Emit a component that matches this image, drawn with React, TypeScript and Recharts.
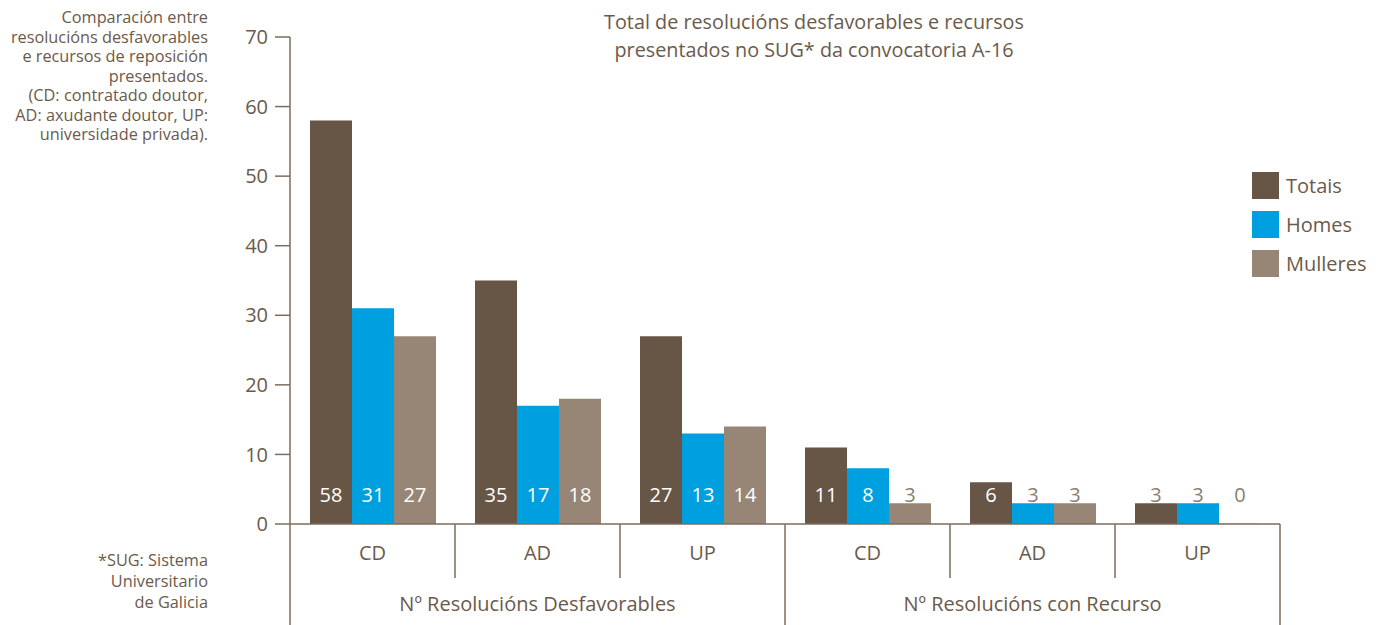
import { Bar, BarChart, LabelList, XAxis, YAxis } from "recharts";

const categories = ["CD", "AD", "UP", "CD", "AD", "UP"];
const groups = ["Nº Resolucións Desfavorables", "Nº Resolucións con Recurso"];
const totais = [58, 35, 27, 11, 6, 3];
const homes = [31, 17, 13, 8, 3, 3];
const mulleres = [27, 18, 14, 3, 3, 0];
const yTicks = [0, 10, 20, 30, 40, 50, 60, 70];

const series = [
  { key: "totais", name: "Totais", color: "#675646" },
  { key: "homes", name: "Homes", color: "#009fe0" },
  { key: "mulleres", name: "Mulleres", color: "#978676" },
];

const data = categories.map((cat, i) => ({
  id: `c${i}`,
  cat,
  totais: totais[i],
  homes: homes[i],
  mulleres: mulleres[i],
}));

const FONT = "'Open Sans', sans-serif";
const TEXT = "#6b5a4b";
const LINE = "#7d6c5e";

function CategoryTick(props: any) {
  const { x, y, index, payload } = props;
  const half = payload?.offset ?? 82.5;
  const firstOfGroup = index % 3 === 0;
  const last = index === categories.length - 1;
  return (
    <g>
      <line
        x1={x - half}
        x2={x - half}
        y1={y}
        y2={firstOfGroup ? y + 101 : y + 54}
        stroke={LINE}
        strokeWidth={1.5}
      />
      {last && (
        <line x1={x + half} x2={x + half} y1={y} y2={y + 101} stroke={LINE} strokeWidth={1.5} />
      )}
      <text x={x} y={y + 28} textAnchor="middle" dominantBaseline="central" fill={TEXT} fontSize={20} fontFamily={FONT}>
        {categories[index]}
      </text>
      {index % 3 === 1 && (
        <text x={x} y={y + 79} textAnchor="middle" dominantBaseline="central" fill={TEXT} fontSize={20} fontFamily={FONT}>
          {groups[Math.floor(index / 3)]}
        </text>
      )}
    </g>
  );
}

const renderValue = (props: any) => {
  const { x, y, width, height, value } = props;
  const bottom = y + height;
  const inside = height > 35;
  return (
    <text
      x={x + width / 2}
      y={bottom - 30}
      textAnchor="middle"
      dominantBaseline="central"
      fill={inside ? "#ffffff" : "#8b7d70"}
      fontSize={20}
      fontFamily={FONT}
    >
      {value}
    </text>
  );
};

export default function App() {
  return (
    <div style={{ position: "absolute", left: 0, top: 0, width: 1379, height: 625, fontFamily: FONT, color: TEXT }}>
      <div
        style={{
          position: "absolute",
          right: 1379 - 208,
          top: 8,
          width: 260,
          textAlign: "right",
          fontSize: 16.3,
          lineHeight: "19.5px",
        }}
      >
        Comparación entre
        <br />
        resolucións desfavorables
        <br />
        e recursos de reposición
        <br />
        presentados.
        <br />
        (CD: contratado doutor,
        <br />
        AD: axudante doutor, UP:
        <br />
        universidade privada).
      </div>
      <div
        style={{
          position: "absolute",
          right: 1379 - 208,
          top: 550,
          width: 200,
          textAlign: "right",
          fontSize: 16.3,
          lineHeight: "21px",
        }}
      >
        *SUG: Sistema
        <br />
        Universitario
        <br />
        de Galicia
      </div>
      <div
        style={{
          position: "absolute",
          left: 464,
          width: 700,
          top: 8,
          textAlign: "center",
          fontSize: 19.8,
          lineHeight: "28px",
        }}
      >
        Total de resolucións desfavorables e recursos
        <br />
        presentados no SUG* da convocatoria A-16
      </div>
      <div style={{ position: "absolute", left: 1252, top: 172 }}>
        {series.map((s) => (
          <div key={s.key} style={{ display: "flex", alignItems: "center", height: 27, marginBottom: 12 }}>
            <div style={{ width: 27, height: 27, background: s.color }} />
            <span style={{ marginLeft: 7, fontSize: 20 }}>{s.name}</span>
          </div>
        ))}
      </div>
      <BarChart
        width={1379}
        height={625}
        data={data}
        margin={{ top: 37, right: 99, left: 230, bottom: 0 }}
        barCategoryGap={20}
        barGap={0}
      >
        <YAxis
          width={60}
          domain={[0, 70]}
          ticks={yTicks}
          interval={0}
          tickSize={15}
          tickMargin={7}
          axisLine={{ stroke: LINE, strokeWidth: 1.5 }}
          tickLine={{ stroke: LINE, strokeWidth: 1.5 }}
          tick={{ fill: TEXT, fontSize: 20, fontFamily: FONT }}
        />
        <XAxis
          dataKey="id"
          height={101}
          interval={0}
          tickSize={0}
          tickMargin={0}
          tickLine={false}
          axisLine={{ stroke: LINE, strokeWidth: 1.5 }}
          tick={<CategoryTick />}
        />
        {series.map((s) => (
          <Bar
            key={s.key}
            dataKey={s.key}
            name={s.name}
            fill={s.color}
            minPointSize={0.3}
            isAnimationActive={false}
          >
            <LabelList dataKey={s.key} content={renderValue} />
          </Bar>
        ))}
      </BarChart>
    </div>
  );
}
